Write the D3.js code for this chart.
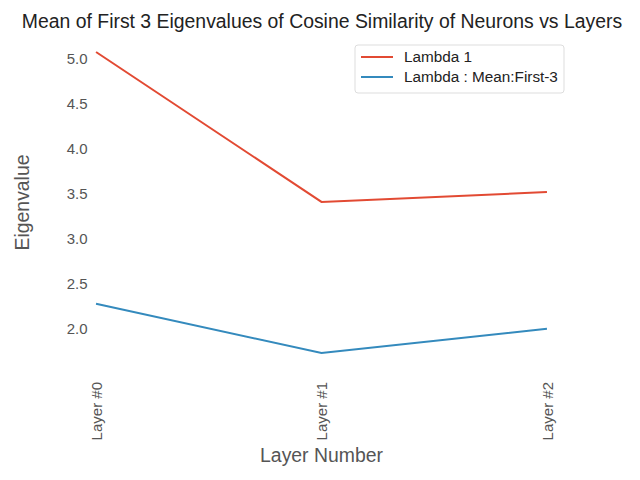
<!DOCTYPE html>
<html>
<head>
<meta charset="utf-8">
<script src="https://cdn.jsdelivr.net/npm/d3@7"></script>
<style>
  body { margin: 0; background: #fff; }
  text { font-family: "Liberation Sans", Arial, sans-serif; }
</style>
</head>
<body>
<svg id="chart"></svg>
<script>
// data
var layers = ["Layer #0", "Layer #1", "Layer #2"]
var lambda1 = [5.067, 3.40, 3.51]
var meanFirst3 = [2.267, 1.72, 1.99]
var yTicks = [2.0, 2.5, 3.0, 3.5, 4.0, 4.5, 5.0]
var seriesNames = ["Lambda 1", "Lambda : Mean:First-3"]
var seriesColors = ["#E24A33", "#348ABD"]

var width = 640
var height = 480
var margin = {top: 37, right: 70.5, bottom: 112, left: 73.5}

const svg = d3.select("#chart")
  .attr("width", width)
  .attr("height", height)

var x = d3.scaleLinear()
  .domain([-0.1, 2.1])
  .range([margin.left, width - margin.right])

var y = d3.scaleLinear()
  .domain([1.553, 5.234])
  .range([height - margin.bottom, margin.top])

// y axis, no domain line or ticks
svg.append("g")
  .attr("transform", `translate(${margin.left + 15},0)`)
  .call(d3.axisLeft(y).tickValues(yTicks).tickFormat(d3.format(".1f")).tickSize(0))
  .call(g => g.select(".domain").remove())
  .call(g => g.selectAll("text").attr("fill", "#555").style("font-size", "15px").attr("x", 0).attr("dx", "-1").attr("dy", "0.35em"))

// x axis, rotated labels
svg.append("g")
  .attr("transform", `translate(0,${height - margin.bottom})`)
  .call(d3.axisBottom(x).tickValues(d3.range(layers.length)).tickFormat(i => layers[i]).tickSize(0))
  .call(g => g.select(".domain").remove())
  .selectAll("text")
    .attr("fill", "#555")
    .style("font-size", "15px")
    .style("text-anchor", "end")
    .attr("transform", "rotate(-90)")
    .attr("x", -14)
    .attr("y", 0)
    .attr("dy", "0.35em")

var line = d3.line()
  .x((d, i) => x(i))
  .y(d => y(d))

var series = [lambda1, meanFirst3]
svg.append("g")
  .selectAll("path")
  .data(series)
  .join("path")
    .attr("d", line)
    .attr("fill", "none")
    .attr("stroke", (d, i) => seriesColors[i])
    .attr("stroke-width", 2)

// title and axis labels
svg.append("text")
  .attr("x", 322)
  .attr("y", 28)
  .attr("text-anchor", "middle")
  .attr("fill", "#222")
  .style("font-size", "19.4px")
  .text("Mean of First 3 Eigenvalues of Cosine Similarity of Neurons vs Layers")

svg.append("text")
  .attr("x", (margin.left + width - margin.right) / 2)
  .attr("y", 462)
  .attr("text-anchor", "middle")
  .attr("fill", "#555")
  .style("font-size", "19.4px")
  .text("Layer Number")

svg.append("text")
  .attr("transform", `translate(29,${(margin.top + height - margin.bottom) / 2}) rotate(-90)`)
  .attr("text-anchor", "middle")
  .attr("fill", "#555")
  .style("font-size", "19.4px")
  .text("Eigenvalue")

// legend
const legend = svg.append("g").attr("transform", "translate(355,45)")
legend.append("rect")
  .attr("width", 209)
  .attr("height", 48)
  .attr("rx", 3)
  .attr("fill", "#fff")
  .attr("stroke", "#ddd")

legend.selectAll("line")
  .data(seriesNames)
  .join("line")
    .attr("x1", 6).attr("x2", 38)
    .attr("y1", (d, i) => 12 + i * 20)
    .attr("y2", (d, i) => 12 + i * 20)
    .attr("stroke", (d, i) => seriesColors[i])
    .attr("stroke-width", 2)

legend.selectAll("text")
  .data(seriesNames)
  .join("text")
    .attr("x", 49)
    .attr("y", (d, i) => 12 + i * 20)
    .attr("dy", "0.35em")
    .attr("fill", "#222")
    .style("font-size", "15.3px")
    .text(d => d)
</script>
</body>
</html>
